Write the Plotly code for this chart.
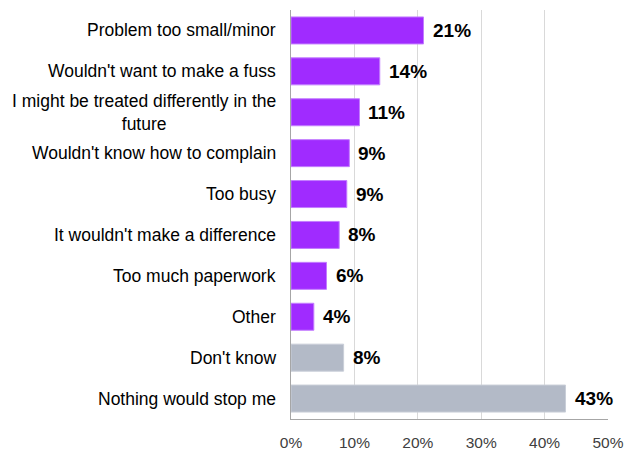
import plotly.graph_objects as go

# Reasons for not complaining (share of respondents, %)
categories = [
    "Problem too small/minor",
    "Wouldn't want to make a fuss",
    "I might be treated differently in the<br>future",
    "Wouldn't know how to complain",
    "Too busy",
    "It wouldn't make a difference",
    "Too much paperwork",
    "Other",
    "Don't know",
    "Nothing would stop me",
]
values = [20.9, 14.0, 10.8, 9.2, 8.8, 7.6, 5.6, 3.6, 8.3, 43.3]
value_labels = [f"{round(v)}%" for v in values]

PURPLE = "#A02BFF"
GREY = "#B3BAC7"
bar_colors = [PURPLE] * 8 + [GREY] * 2
edge_colors = ["#C37DFF"] * 8 + ["#C9CED8"] * 2

FONT = "Liberation Sans, Arial, sans-serif"

fig = go.Figure(
    go.Bar(
        x=values,
        y=categories,
        orientation="h",
        marker=dict(color=bar_colors, line=dict(color=edge_colors, width=1)),
        hoverinfo="skip",
    )
)

# value labels just past the end of each bar
for cat, v, lab in zip(categories, values, value_labels):
    fig.add_annotation(
        x=v, y=cat, xref="x", yref="y", text=f"<b>{lab}</b>", showarrow=False,
        xanchor="left", xshift=7,
        font=dict(family=FONT, size=19, color="#000000"),
    )

# category labels, centred when wrapped onto two lines
for cat in categories:
    fig.add_annotation(
        x=0, y=cat, xref="paper", yref="y", text=cat, showarrow=False,
        xanchor="right", xshift=-13, align="center",
        font=dict(family=FONT, size=17.5, color="#000000"),
    )

fig.update_layout(
    width=627,
    height=453,
    margin=dict(l=291, r=19, t=10, b=34),
    paper_bgcolor="white",
    plot_bgcolor="white",
    bargap=0.34,
    showlegend=False,
    font=dict(family=FONT, size=15.5, color="#404040"),
)
fig.update_xaxes(
    range=[0, 50],
    dtick=10,
    ticksuffix="%",
    showgrid=True,
    gridcolor="#D9D9D9",
    gridwidth=1,
    zeroline=False,
    showline=True,
    linecolor="#A6A6A6",
    linewidth=1,
    ticks="",
    ticklabelstandoff=9,
    automargin=False,
    tickfont=dict(family=FONT, size=15.5, color="#404040"),
    fixedrange=True,
)
fig.update_yaxes(
    autorange="reversed",
    showticklabels=False,
    showgrid=False,
    showline=True,
    linecolor="#A6A6A6",
    linewidth=1,
    ticks="",
    automargin=False,
    fixedrange=True,
)

fig.write_html("out.html", config={"displayModeBar": False})
